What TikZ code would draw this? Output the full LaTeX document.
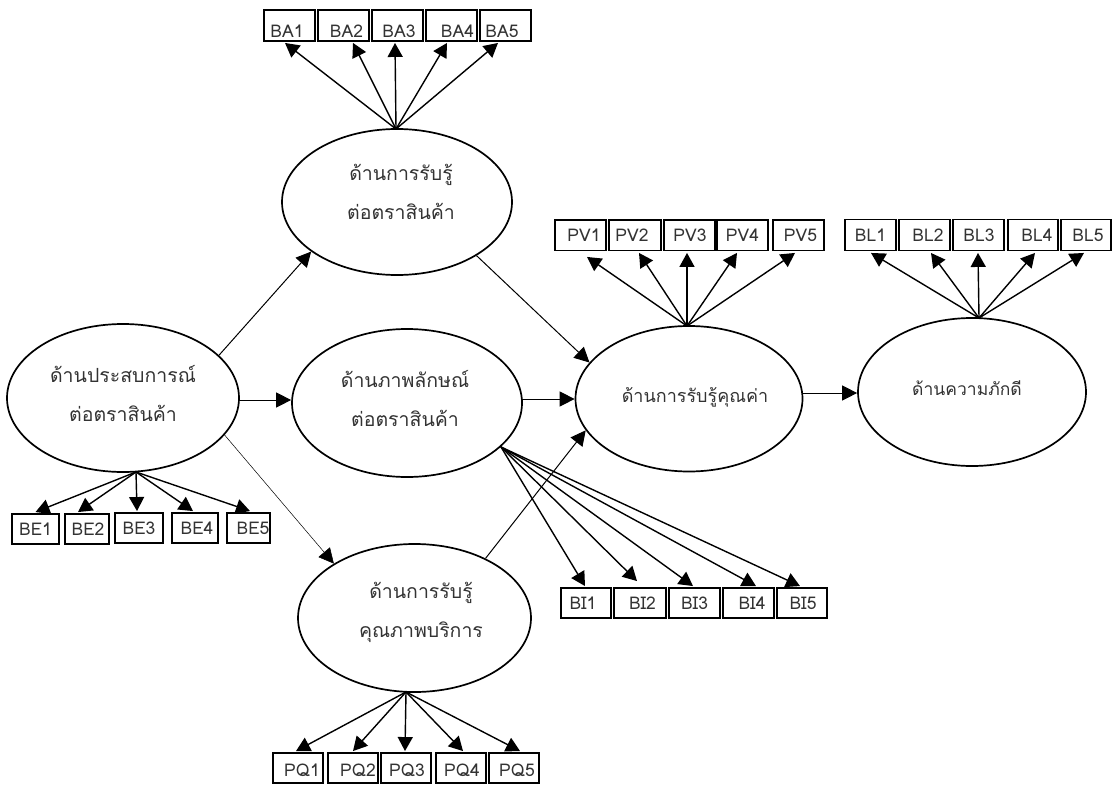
\documentclass[tikz,border=0pt]{standalone}
\usepackage{fontspec}
\setmainfont[Script=Thai]{Loma}
\usetikzlibrary{shapes.geometric,arrows.meta}
\tikzset{
  lat/.style={ellipse,draw,line width=1.7pt,inner sep=0pt},
  lab/.style={inner sep=0pt,align=center,font=\fontsize{19.5}{39}\selectfont,text=black!80},
  obs/.style={rectangle,draw,line width=1.9pt,inner sep=0pt},
  obt/.style={inner sep=0pt,text height=12.5pt,text depth=0pt,font=\fontsize{17.5}{20}\selectfont,text=black!80},
  load/.style={line width=1.4pt,-{Triangle[length=14pt,width=15pt]}},
  path1/.style={line width=1pt,-{Triangle[length=15pt,width=15pt]}}
}
\newcommand{\lv}[5]{\node[lat,minimum width=#4pt,minimum height=#5pt] (#1) at (#2,#3) {};}
\begin{document}
\begin{tikzpicture}[x=1pt,y=-1pt]
\useasboundingbox (0,0) rectangle (1113,784);
\lv{ba}{397}{202}{230}{146}
\lv{be}{123}{398}{232}{148}
\lv{bi}{407}{403}{230}{148}
\lv{pq}{414.5}{618}{233}{148}
\lv{pv}{689}{398.75}{227}{145.5}
\lv{bl}{972}{392}{228}{148}
\node[lab] (tba) at (401,192) {ด้านการรับรู้\\ต่อตราสินค้า};
\node[lab] (tbe) at (123,393) {ด้านประสบการณ์\\ต่อตราสินค้า};
\node[lab] (tbi) at (405,398) {ด้านภาพลักษณ์\\ต่อตราสินค้า};
\node[lab] (tpq) at (421,612) {ด้านการรับรู้\\คุณภาพบริการ};
\node[lab,font=\fontsize{18}{36}\selectfont] (tpv) at (695,397) {ด้านการรับรู้คุณค่า};
\node[lab,font=\fontsize{17.5}{36}\selectfont] (tbl) at (967,388) {ด้านความภักดี};
\foreach \n/\x/\w/\tx in {BA1/289.5/51/-5,BA2/343.5/51/6,BA3/397.5/51/3,BA4/451.5/51/12,BA5/505.5/51/-7}{%
  \node[obs,minimum width=\w pt,minimum height=31pt] (\n) at (\x,25.5) {};
  \node[obt] (t\n) at ([xshift=\tx pt/2,yshift=-6pt]\n.center) {\n};}
\foreach \n/\x/\y/\w/\tx in {BE1/35.5/529/47/0,BE2/87/529/44/2,BE3/139/528/48/0,BE4/195/528/46/4,BE5/248.5/528/43/9}{%
  \node[obs,minimum width=\w pt,minimum height=30pt] (\n) at (\x,\y) {};
  \node[obt] (t\n) at ([xshift=\tx pt/2]\n.center) {\n};}
\foreach \n/\x/\w/\tx in {PV1/580.5/51/7,PV2/635/52/-6,PV3/689.5/51/1,PV4/742.5/51/0,PV5/798.5/51/4}{%
  \node[obs,minimum width=\w pt,minimum height=30.5pt] (\n) at (\x,235.25) {};
  \node[obt] (t\n) at ([xshift=\tx pt/2]\n.center) {\n};}
\foreach \n/\x/\w/\tx in {BL1/870.5/51/0,BL2/924.5/51/7,BL3/978.5/51/1,BL4/1033/50/8,BL5/1086/50/4}{%
  \node[obs,minimum width=\w pt,minimum height=31pt] (\n) at (\x,235) {};
  \node[obt] (t\n) at ([xshift=\tx pt/2]\n.center) {\n};}
\foreach \n/\x/\w/\tx in {BI1/586/50/-6,BI2/640/52/5,BI3/694.5/51/0,BI4/748.5/51/7,BI5/802/50/2}{%
  \node[obs,minimum width=\w pt,minimum height=30pt] (\n) at (\x,603) {};
  \node[obt] (t\n) at ([xshift=\tx pt/2]\n.center) {\n};}
\foreach \n/\x/\w/\tx in {PQ1/298/50/8,PQ2/353/50/10,PQ3/406/50/2,PQ4/461/50/2,PQ5/514/50/6}{%
  \node[obs,minimum width=\w pt,minimum height=30pt] (\n) at (\x,768) {};
  \node[obt] (t\n) at ([xshift=\tx pt/2,yshift=-2pt]\n.center) {\n};}
\coordinate (aba) at (396,129);
\coordinate (abe) at (136,472);
\coordinate (api) at (501,447);
\coordinate (apq) at (406,692);
\coordinate (apv) at (687,326);
\coordinate (abl) at (979,318);
\foreach \n/\d in {BA1/-4.5,BA2/9.5,BA3/-2.5,BA4/-4.5,BA5/-7.5}{\draw[load] (aba) -- ([xshift=\d pt,yshift=-1pt]\n.south);}
\foreach \n/\d in {BE1/0,BE2/-9,BE3/-2,BE4/-2,BE5/1.5}{\draw[load] (abe) -- ([xshift=\d pt,yshift=1pt]\n.north);}
\foreach \n/\d in {PV2/4,PV3/-2.5,PV4/-5.5,PV5/-3.5}{\draw[load] (apv) -- ([xshift=\d pt,yshift=-1.5pt]\n.south);}
\draw[load] (apv) -- ([xshift=6.5pt,yshift=-5.5pt]PV1.south);
\foreach \n/\d in {BL1/0.5,BL2/6.5,BL3/-0.5,BL4/2,BL5/-2}{\draw[load] (abl) -- ([xshift=\d pt,yshift=-1.5pt]\n.south);}
\foreach \n/\d in {BI1/-1,BI3/-1.5,BI4/7.5,BI5/-2}{\draw[load] (api) -- ([xshift=\d pt,yshift=1pt]\n.north);}
\draw[load] (api) -- ([xshift=-3pt,yshift=6pt]BI2.north);
\foreach \n/\d in {PQ1/-2,PQ2/0,PQ3/-1,PQ4/2,PQ5/6}{\draw[load] (apq) -- ([xshift=\d pt,yshift=1pt]\n.north);}
\coordinate (e1) at (239,400);
\coordinate (e2) at (522,399);
\coordinate (e3) at (802,393);
\draw[path1] (be.24) -- (ba.210.5);
\draw[path1] (e1) -- (e1 -| bi.west);
\draw[path1,line width=0.5pt] (be.-20) -- (pq.146);
\draw[path1] (ba.-34) -- (pv.160);
\draw[path1] (e2) -- (e2 -| pv.west);
\draw[path1] (pq.40) -- (pv.197.8);
\draw[path1] (e3) -- (e3 -| bl.west);
\end{tikzpicture}
\end{document}
